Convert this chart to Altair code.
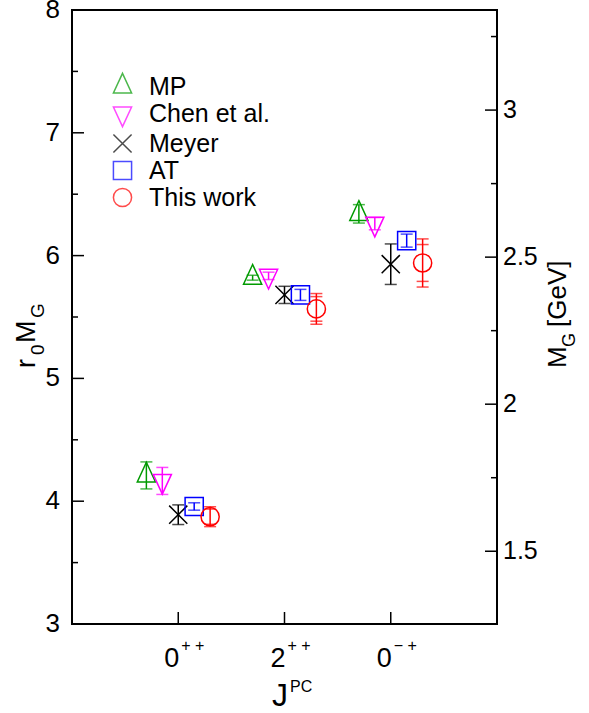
import altair as alt
import pandas as pd

# ---------------- data ----------------
cat_pos = [0, 2, 4]
cat_base = ["0", "2", "0"]
cat_sup = ["+ +", "+ +", "\u2212 +"]

series = ["MP", "Chen et al.", "Meyer", "AT", "This work"]
series_shift = [-0.6, -0.3, 0.0, 0.3, 0.6]
series_colors = ["#009a00", "#ff00ff", "#000000", "#0000ff", "#ff0000"]
series_shapes = [
    "M0,-1.45L1,0.72L-1,0.72Z",   # open triangle up
    "M0,1.45L1,-0.72L-1,-0.72Z",  # open triangle down
    "M-1,-1L1,1M-1,1L1,-1",       # x
    "square",
    "circle",
]
series_sizes = [330, 330, 150, 280, 400]

mp_val = [4.21, 5.82, 6.34]
mp_err = [0.11, 0.02, 0.075]
chen_val = [4.165, 5.835, 6.26]
chen_err = [0.11, 0.03, 0.05]
meyer_val = [3.89, 5.68, 5.93]
meyer_err = [0.08, 0.07, 0.165]
at_val = [3.957, 5.68, 6.122]
at_err = [0.03, 0.045, 0.053]
tw_val = [3.874, 5.566, 5.94]
tw_stat = [0.062, 0.10, 0.15]
tw_tot = [0.081, 0.125, 0.196]

left_major = [3, 4, 5, 6, 7, 8]
left_minor = [3.5, 4.5, 5.5, 6.5, 7.5]
right_major = [1.5, 2, 2.5, 3]
right_minor = [1.75, 2.25, 2.75, 3.25]
r0 = 2.395  # GeV^-1, r0*M_G -> M_G conversion

# ---------------- tables ----------------
vals = [mp_val, chen_val, meyer_val, at_val, tw_val]
errs = [mp_err, chen_err, meyer_err, at_err, tw_tot]
pts, caps = [], []
for i, s in enumerate(series):
    for j in range(3):
        x = cat_pos[j] + series_shift[i]
        v, e = vals[i][j], errs[i][j]
        pts.append(dict(series=s, col=series_colors[i], x=x, y=v, lo=v - e, hi=v + e))
        caps.append(dict(col=series_colors[i], x=x, c=v - e))
        caps.append(dict(col=series_colors[i], x=x, c=v + e))
        if s == "This work":
            caps.append(dict(col=series_colors[i], x=x, c=v - tw_stat[j]))
            caps.append(dict(col=series_colors[i], x=x, c=v + tw_stat[j]))
pts = pd.DataFrame(pts)
caps = pd.DataFrame(caps)
cats = pd.DataFrame(dict(pos=cat_pos, base=cat_base, sup=cat_sup))

W, H = 425, 614
FONT = "Liberation Sans"

xs = alt.Scale(domain=[-2, 6], nice=False, zero=False)
ys = alt.Scale(domain=[3, 8], nice=False, zero=False)
gs = alt.Scale(domain=[3 / r0, 8 / r0], nice=False, zero=False)

leg = alt.Legend(orient="none", legendX=38, legendY=64, title=None,
                 labelFontSize=25, labelFont=FONT, labelColor="black",
                 symbolStrokeWidth=1.5, rowPadding=1, labelOffset=14, padding=0)

X = alt.X("x:Q", scale=xs, axis=None)

bars = alt.Chart(pts).mark_rule(strokeWidth=1.5).encode(
    x=X, y=alt.Y("lo:Q", scale=ys, axis=None), y2="hi:Q",
    color=alt.Color("col:N", scale=None))

capm = alt.Chart(caps).mark_tick(orient="horizontal", size=12, thickness=1.5).encode(
    x=X, y=alt.Y("c:Q", scale=ys, axis=None),
    color=alt.Color("col:N", scale=None))

points = alt.Chart(pts).mark_point(filled=False, strokeWidth=1.5, opacity=1).encode(
    x=X, y=alt.Y("y:Q", scale=ys, axis=None),
    color=alt.Color("series:N", scale=alt.Scale(domain=series, range=series_colors), legend=leg),
    shape=alt.Shape("series:N", scale=alt.Scale(domain=series, range=series_shapes), legend=leg),
    size=alt.Size("series:N", scale=alt.Scale(domain=series, range=series_sizes), legend=leg),
)

lmaj_df = pd.DataFrame(dict(v=left_major))
lmaj = alt.Chart(lmaj_df).mark_rule(color="black", strokeWidth=1.5).encode(
    y=alt.Y("v:Q", scale=ys, axis=None), x=alt.value(0), x2=alt.value(12))
llab = alt.Chart(lmaj_df).mark_text(align="right", baseline="middle", fontSize=26, font=FONT,
                                    color="black").encode(
    y=alt.Y("v:Q", scale=ys, axis=None), x=alt.value(-12), text=alt.Text("v:Q", format="~g"))
lmin = alt.Chart(pd.DataFrame(dict(v=left_minor))).mark_rule(color="black", strokeWidth=1.5).encode(
    y=alt.Y("v:Q", scale=ys, axis=None), x=alt.value(0), x2=alt.value(6))

xt = alt.Chart(cats).mark_rule(color="black", strokeWidth=1.5).encode(
    x=alt.X("pos:Q", scale=xs, axis=None), y=alt.value(H - 12), y2=alt.value(H))
xb = alt.Chart(cats).mark_text(align="right", baseline="alphabetic", fontSize=27, font=FONT,
                               color="black", dx=1).encode(
    x=alt.X("pos:Q", scale=xs, axis=None), y=alt.value(H + 43), text="base:N")
xsup = alt.Chart(cats).mark_text(align="left", baseline="alphabetic", fontSize=16, font=FONT,
                                 color="black", dx=3).encode(
    x=alt.X("pos:Q", scale=xs, axis=None), y=alt.value(H + 27), text="sup:N")


def txt(t, x, y, size, angle=0):
    return alt.Chart(pd.DataFrame(dict(t=[t]))).mark_text(
        align="left", baseline="alphabetic", fontSize=size, font=FONT, color="black", angle=angle
    ).encode(x=alt.value(x), y=alt.value(y), text="t:N")


titles = [
    txt("J", 200, H + 82, 32),
    txt("PC", 218, H + 68, 16),
    txt("r", -37, 358, 27, 270),
    txt("0", -28, 345, 19, 270),
    txt("M", -37, 333, 27, 270),
    txt("G", -28, 308, 19, 270),
    txt("M", W + 69, 358, 26, 270),
    txt("G", W + 78, 337, 18, 270),
    txt("[GeV]", W + 69, 317, 26, 270),
]

left = alt.layer(lmaj, llab, lmin, xt, xb, xsup, bars, capm, points, *titles)

rmaj_df = pd.DataFrame(dict(g=right_major))
rmaj = alt.Chart(rmaj_df).mark_rule(color="black", strokeWidth=1.5).encode(
    y=alt.Y("g:Q", scale=gs, axis=None), x=alt.value(W - 12), x2=alt.value(W))
rlab = alt.Chart(rmaj_df).mark_text(align="left", baseline="middle", fontSize=25, font=FONT,
                                    color="black").encode(
    y=alt.Y("g:Q", scale=gs, axis=None), x=alt.value(W + 6), text=alt.Text("g:Q", format="~g"))
rmin = alt.Chart(pd.DataFrame(dict(g=right_minor))).mark_rule(color="black", strokeWidth=1.5).encode(
    y=alt.Y("g:Q", scale=gs, axis=None), x=alt.value(W - 6), x2=alt.value(W))
right = alt.layer(rmaj, rlab, rmin)

chart = alt.layer(left, right).resolve_scale(y="independent").properties(
    width=W, height=H,
    background="white",
    autosize=alt.AutoSizeParams(type="none"),
    padding={"left": 72, "top": 10, "right": 92, "bottom": 89},
).configure_view(stroke="black", strokeWidth=2)

chart.save("out.html", embed_options={"renderer": "svg", "actions": False})
